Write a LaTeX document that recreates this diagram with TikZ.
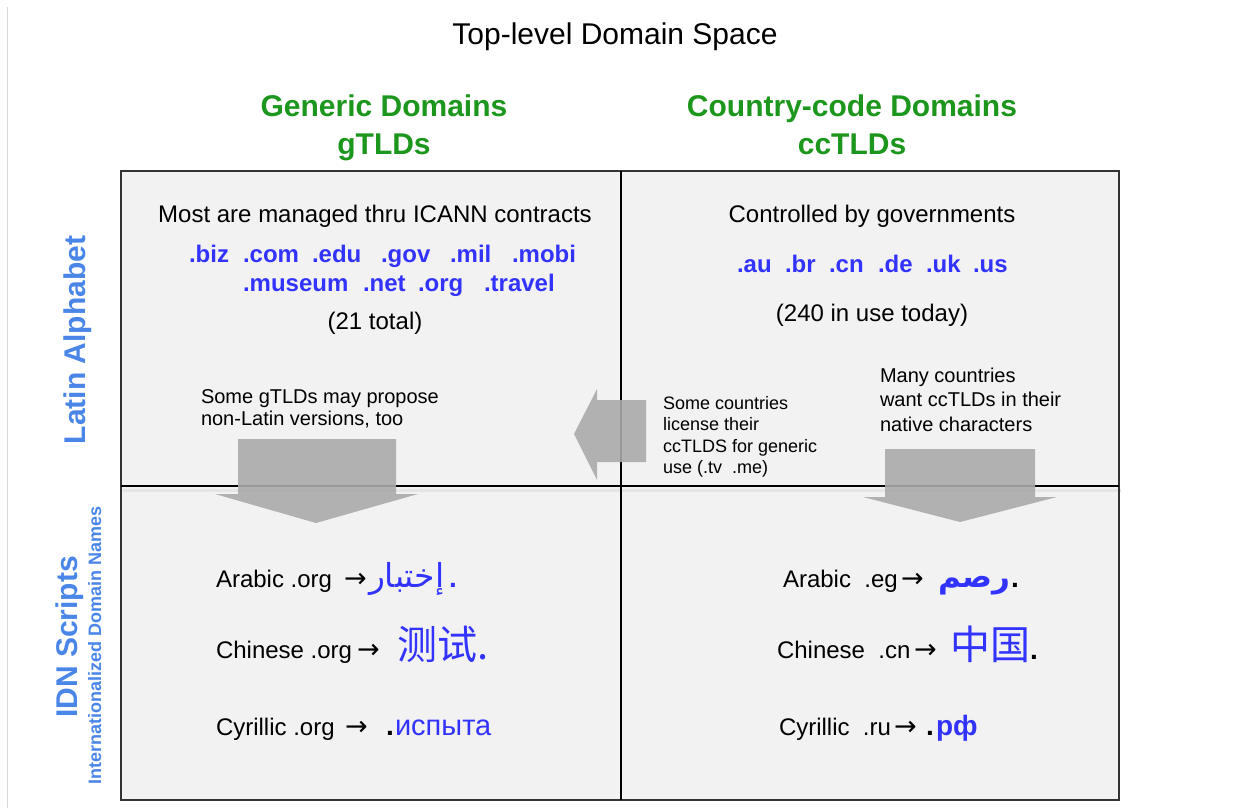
\documentclass[tikz,border=0pt]{standalone}
\usepackage{fontspec}
\setmainfont{Liberation Sans}
\newfontfamily\arabicfont[Script=Arabic]{DejaVu Sans}
\newfontfamily\cjk{Noto Sans CJK SC}
\newfontfamily\symfont{DejaVu Sans}
\TeXXeTstate=1
\definecolor{hgreen}{RGB}{28,150,28}
\definecolor{dblue}{RGB}{51,51,255}
\definecolor{lblue}{RGB}{74,134,232}
\definecolor{cellfill}{RGB}{242,242,242}
\definecolor{arrowgray}{RGB}{170,170,170}
\begin{document}
\begin{tikzpicture}[x=1pt,y=-1pt,
  txt/.style={inner sep=0pt,outer sep=0pt},
  ttl/.style={txt,anchor=base,font=\fontsize{30}{34}\selectfont},
  head/.style={txt,anchor=base,text=hgreen,font=\fontsize{30}{34}\selectfont\bfseries},
  body/.style={txt,anchor=base,font=\fontsize{24}{28}\selectfont},
  bodyw/.style={txt,anchor=base west,font=\fontsize{24}{28}\selectfont},
  dom/.style={txt,anchor=base west,text=dblue,font=\fontsize{24}{28}\selectfont\bfseries},
  notea/.style={txt,anchor=base west,font=\fontsize{20}{24}\selectfont},
  noteb/.style={txt,anchor=base west,font=\fontsize{18}{22}\selectfont},
  vlab/.style={txt,anchor=base,rotate=90,text=lblue,font=\fontsize{30}{34}\selectfont\bfseries},
  vsub/.style={txt,anchor=base,rotate=90,text=lblue,font=\fontsize{18}{22}\selectfont\bfseries},
  arr/.style={txt,anchor=base west,font=\symfont\fontsize{27}{28}\selectfont},
  blockarrow/.style={fill=arrowgray,fill opacity=0.9},
  dotk/.style={txt,anchor=base west,font=\fontsize{28}{30}\selectfont\bfseries},
]
\useasboundingbox (0,0) rectangle (1242,808);
\fill[white] (0,0) rectangle (1242,808);
\draw[black!15,line width=1] (7,7) -- (7,808);

% grid
\fill[cellfill] (121,171) rectangle (1119,800);
\draw[black!10,line width=3] (123,490) -- (1121,490);
\draw[black!80,line width=1.5] (121,171) rectangle (1119,800);
\draw[black,line width=1.5] (621,171) -- (621,800);
\draw[black,line width=2.5] (121,486) -- (1119,486);

% titles
\node[ttl] (title) at (615,45) {Top-level Domain Space};
\node[head] (hgen1) at (384,116) {Generic Domains};
\node[head] (hgen2) at (384,154) {gTLDs};
\node[head] (hcc1) at (852,116) {Country-code Domains};
\node[head] (hcc2) at (852,154) {ccTLDs};

% side labels
\node[vlab] (latin) at (85,340) {Latin Alphabet};
\node[vlab] (idn) at (77,637) {IDN Scripts};
\node[vsub] (idnsub) at (101,645) {Internationalized Domain Names};

% top-left cell
\node[body] (ga) at (375,222) {Most are managed thru ICANN contracts};
\node[dom] (gd1) at (189,262) {.biz};
\node[dom] (gd2) at (243,262) {.com};
\node[dom] (gd3) at (312,262) {.edu};
\node[dom] (gd4) at (381,262) {.gov};
\node[dom] (gd5) at (450,262) {.mil};
\node[dom] (gd6) at (512,262) {.mobi};
\node[dom] (gd7) at (243,291) {.museum};
\node[dom] (gd8) at (363,291) {.net};
\node[dom] (gd9) at (418,291) {.org};
\node[dom] (gd10) at (484,291) {.travel};
\node[body] (gtot) at (375,329) {(21 total)};

% top-right cell
\node[body] (ca) at (872,222) {Controlled by governments};
\node[dom] (cd1) at (737,272) {.au};
\node[dom] (cd2) at (785,272) {.br};
\node[dom] (cd3) at (829,272) {.cn};
\node[dom] (cd4) at (878,272) {.de};
\node[dom] (cd5) at (926,272) {.uk};
\node[dom] (cd6) at (973,272) {.us};
\node[body] (ctot) at (872,321) {(240 in use today)};

% block arrows
\fill[blockarrow] (238,439) -- (396,439) -- (396,494) -- (418,494) -- (316,523) -- (215,494) -- (238,494) -- cycle;
\fill[blockarrow] (885,449) -- (1035,449) -- (1035,497) -- (1057,497) -- (960,522) -- (863,497) -- (885,497) -- cycle;
\fill[blockarrow] (646,400) -- (646,462) -- (597,462) -- (597,480) -- (574,434) -- (597,389) -- (597,400) -- cycle;

% notes
\node[notea] (n1a) at (201,403) {Some gTLDs may propose};
\node[notea] (n1b) at (201,425) {non-Latin versions, too};
\node[noteb] (n2a) at (663,409) {Some countries};
\node[noteb] (n2b) at (663,430.5) {license their};
\node[noteb] (n2c) at (663,452) {ccTLDS for generic};
\node[noteb] (n2d) at (663,473.5) {use (.tv\ \ .me)};
\node[notea] (n3a) at (880,382) {Many countries};
\node[notea] (n3b) at (880,406) {want ccTLDs in their};
\node[notea] (n3c) at (880,431) {native characters};

% bottom-left cell
\node[bodyw] (la) at (216,587) {Arabic .org};
\node[arr] (laa) at (344,587) {→};
\node[txt,anchor=base west,text=dblue,font=\arabicfont\fontsize{33}{36}\selectfont] (lar) at (369,587) {\beginR إختبار\endR};
\node[txt,anchor=base west,text=dblue,font=\fontsize{28}{30}\selectfont\bfseries] (lard) at (449,587) {.};

\node[bodyw] (lc) at (216,658) {Chinese .org};
\node[arr] (lca) at (357,658) {→};
\node[txt,anchor=base west,text=dblue,font=\cjk\fontsize{40}{44}\selectfont] (lch) at (397,659) {测试.};

\node[bodyw] (ly) at (216,735) {Cyrillic .org};
\node[arr] (lya) at (345,735) {→};
\node[dotk] (lyd) at (386,735) {.};
\node[txt,anchor=base west,text=dblue,font=\fontsize{29}{32}\selectfont] (lyc) at (395,735) {испыта};

% bottom-right cell
\node[bodyw] (ra) at (783,587) {Arabic\ \ .eg};
\node[arr] (raa) at (901,587) {→};
\node[txt,anchor=base west,text=dblue,font=\arabicfont\fontsize{31}{34}\selectfont\bfseries] (rar) at (938,587) {\beginR رصم\endR};
\node[dotk] (rad) at (1011,587) {.};

\node[bodyw] (rc) at (777,658) {Chinese\ \ .cn};
\node[arr] (rca) at (914,658) {→};
\node[txt,anchor=base west,text=dblue,font=\cjk\fontsize{40}{44}\selectfont] (rch) at (950,659) {中国};
\node[dotk] (rcd) at (1030,659) {.};

\node[bodyw] (ry) at (779,735) {Cyrillic\ \ .ru};
\node[arr] (rya) at (894,735) {→};
\node[dotk] (ryd) at (926,735) {.};
\node[txt,anchor=base west,text=dblue,font=\fontsize{28}{30}\selectfont\bfseries] (ryc) at (936,735) {рф};
\end{tikzpicture}
\end{document}
